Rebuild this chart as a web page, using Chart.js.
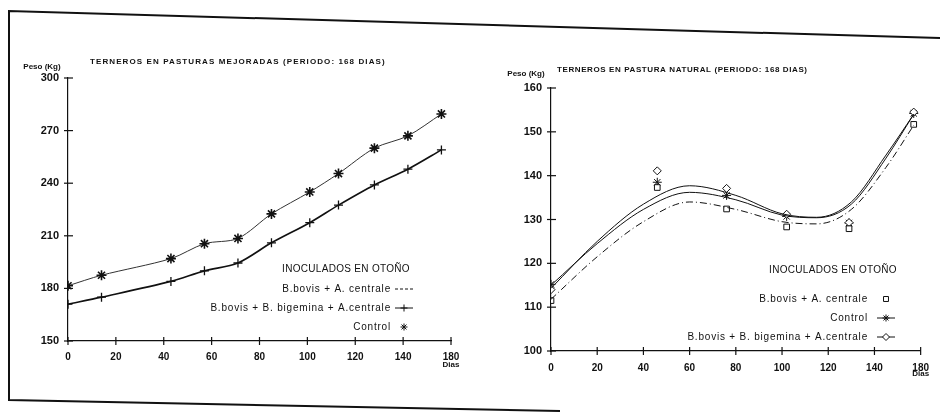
<!DOCTYPE html>
<html>
<head>
<meta charset="utf-8">
<script src="https://cdn.jsdelivr.net/npm/chart.js@4.4.1/dist/chart.umd.min.js"></script>
<style>
  body { margin: 0; background: #fff; }
  #wrap { position: relative; width: 940px; height: 417px; overflow: hidden; background: #fff; }
  #frame { position: absolute; left: 0; top: 0; }
  .pane { position: absolute; top: 0; width: 470px; height: 417px; }
</style>
</head>
<body>
<div id="wrap">
  <svg id="frame" width="940" height="417">
    <polyline points="940,38 9,11 9,400 560,411" fill="none" stroke="#111" stroke-width="2"/>
  </svg>
  <div class="pane" style="left:0"><canvas id="c1" width="470" height="417"></canvas></div>
  <div class="pane" style="left:470px"><canvas id="c2" width="470" height="417"></canvas></div>
</div>
<script>
const INK = "#111";
const FONT = '"Liberation Sans", Arial, sans-serif';

// x tick labels (the last one is printed as 180 in the original)
const xTickLabels = ["0", "20", "40", "60", "80", "100", "120", "140", "180"];

// --- Terneros en pasturas mejoradas ---
const diasMej = [0, 14, 43, 57, 71, 85, 101, 113, 128, 142, 156];
const pesoBovisBigMej = [171, 175, 184, 190, 194.5, 206, 217.5, 227.5, 239, 248, 259];
const pesoControlMej = [181.5, 187.5, 197, 205.5, 208.5, 222.5, 235, 245.5, 260, 267, 279.5];
const seriesMej = ["B.bovis + A. centrale", "B.bovis + B. bigemina + A.centrale", "Control"];

// --- Terneros en pastura natural ---
const diasNat = [0, 46, 76, 102, 129, 157];
const pesoBovisNat = [111.5, 137.3, 132.4, 128.3, 127.9, 151.7];
const pesoControlNat = [115.2, 138.5, 135.5, 130.7, 129.2, 154.2];
const pesoBovisBigNat = [114, 141.1, 137.1, 131.2, 129.3, 154.5];
// fitted curves
const diasCurva = [0, 20, 40, 60, 80, 100, 115, 130, 145, 157];
const curvaBovisBig = [114.3, 125, 133.5, 137.7, 135.5, 131.3, 130.5, 134, 144.7, 154];
const curvaControl = [115, 124.5, 132.3, 136.2, 134.5, 131, 130.4, 133.5, 144, 154];
const curvaBovis = [111.8, 121.5, 129.5, 134, 132.3, 129.5, 129, 132.3, 141.9, 151.5];
const seriesNat = ["B.bovis + A. centrale", "Control", "B.bovis + B. bigemina + A.centrale"];

const pts = (xs, ys) => xs.map((x, i) => ({ x: x, y: ys[i] }));

// crossing tick marks, titles, legend
const decor = {
  id: "decor",
  afterDraw(chart, args, o) {
    const ctx = chart.ctx;
    const xs = chart.scales.x, ys = chart.scales.y;
    ctx.save();
    ctx.strokeStyle = INK;
    ctx.fillStyle = INK;
    ctx.lineWidth = 1.2;
    ys.ticks.forEach(t => {
      const y = ys.getPixelForValue(t.value);
      ctx.beginPath(); ctx.moveTo(ys.right - 4, y); ctx.lineTo(ys.right + 5, y); ctx.stroke();
    });
    xs.ticks.forEach(t => {
      const x = xs.getPixelForValue(t.value);
      ctx.beginPath(); ctx.moveTo(x, xs.top - 4); ctx.lineTo(x, xs.top + 4); ctx.stroke();
    });

    ctx.textBaseline = "middle";
    ctx.font = "bold 8px " + FONT;
    ctx.textAlign = "left";
    ctx.letterSpacing = o.titleSpacing;
    ctx.fillText(o.title, o.titleX, o.titleY);
    ctx.letterSpacing = "0px";
    ctx.textAlign = "center";
    ctx.fillText("Peso (Kg)", o.pesoX, o.pesoY);
    ctx.fillText("Dias", xs.getPixelForValue(160), o.diasY);

    const leg = o.legend;
    ctx.font = "10px " + FONT;
    ctx.letterSpacing = "0.3px";
    ctx.fillText("INOCULADOS EN OTOÑO", leg.titleX, leg.titleY);
    ctx.letterSpacing = "0.8px";
    leg.items.forEach(it => {
      ctx.textAlign = "right";
      ctx.fillStyle = INK;
      ctx.fillText(it.label, leg.textRight, it.y);
      ctx.lineWidth = 1;
      if (it.line) {
        ctx.setLineDash(it.dash || []);
        ctx.beginPath(); ctx.moveTo(leg.symX - 9, it.y); ctx.lineTo(leg.symX + 9, it.y); ctx.stroke();
        ctx.setLineDash([]);
      }
      if (it.point) {
        ctx.fillStyle = "#fff";
        Chart.helpers.drawPoint(ctx, { pointStyle: it.point, radius: 3.5, borderWidth: 1, rotation: 0 }, leg.symX, it.y);
      }
    });
    ctx.restore();
  }
};

function axes(yMin, yMax, yStep, yWidth, xPad) {
  return {
    x: {
      type: "linear", min: 0, max: 160,
      grid: { display: false, drawTicks: false },
      border: { display: true, color: INK, width: 1.2 },
      ticks: {
        stepSize: 20, padding: xPad, color: INK,
        font: { family: FONT, size: 10, weight: "bold" },
        maxRotation: 0,
        callback: (v, i) => xTickLabels[i]
      },
      afterFit: s => { s.height = 30; }
    },
    y: {
      min: yMin, max: yMax,
      grid: { display: false, drawTicks: false },
      border: { display: true, color: INK, width: 1.2 },
      ticks: { stepSize: yStep, padding: 9, color: INK, font: { family: FONT, size: 11, weight: "bold" } },
      afterFit: s => { s.width = yWidth; }
    }
  };
}

new Chart(document.getElementById("c1"), {
  type: "line",
  data: {
    datasets: [
      { label: seriesMej[0], data: [], borderColor: INK, borderDash: [4, 3] },
      {
        label: seriesMej[1], data: pts(diasMej, pesoBovisBigMej),
        borderColor: INK, borderWidth: 1.7, tension: 0.3,
        pointStyle: "cross", pointRadius: 4.5, pointBorderWidth: 1.3, pointBorderColor: INK
      },
      {
        label: seriesMej[2], data: pts(diasMej, pesoControlMej),
        borderColor: "#333", borderWidth: 1, tension: 0.3,
        pointStyle: "star", pointRadius: 5, pointBorderWidth: 1.6, pointBorderColor: INK
      }
    ]
  },
  options: {
    responsive: false, animation: false,
    layout: { padding: { left: 0, top: 78, right: 19, bottom: 46 } },
    scales: axes(150, 300, 30, 68, 10),
    plugins: {
      legend: { display: false }, tooltip: { enabled: false },
      decor: {
        title: "TERNEROS EN PASTURAS MEJORADAS (PERIODO: 168 DIAS)", titleX: 90, titleY: 62, titleSpacing: "1.1px",
        pesoX: 42, pesoY: 67, diasY: 365,
        legend: {
          titleX: 346, titleY: 269, textRight: 391, symX: 404,
          items: [
            { label: seriesMej[0], y: 289, line: true, dash: [3, 2] },
            { label: seriesMej[1], y: 308, line: true, point: "cross" },
            { label: seriesMej[2], y: 327, point: "star" }
          ]
        }
      }
    }
  },
  plugins: [decor]
});

const marker = (label, xs, ys, style) => ({
  label: label, data: pts(xs, ys), showLine: false,
  pointStyle: style, pointRadius: style === "star" ? 4.5 : 4,
  pointBorderWidth: 1, pointBorderColor: INK, pointBackgroundColor: "#fff"
});
const curve = (label, ys, dash) => ({
  label: label, data: pts(diasCurva, ys), borderColor: INK, borderWidth: 1,
  borderDash: dash, cubicInterpolationMode: "monotone", pointRadius: 0
});

new Chart(document.getElementById("c2"), {
  type: "line",
  data: {
    datasets: [
      curve(seriesNat[2], curvaBovisBig, []),
      curve(seriesNat[1], curvaControl, []),
      curve(seriesNat[0], curvaBovis, [7, 3, 1, 3]),
      marker(seriesNat[0], diasNat, pesoBovisNat, "rect"),
      marker(seriesNat[2], diasNat, pesoBovisBigNat, "rectRot"),
      marker(seriesNat[1], diasNat, pesoControlNat, "star")
    ]
  },
  options: {
    responsive: false, animation: false,
    layout: { padding: { left: 0, top: 88, right: 10, bottom: 36 } },
    scales: axes(100, 160, 10, 81, 11),
    plugins: {
      legend: { display: false }, tooltip: { enabled: false },
      decor: {
        title: "TERNEROS EN PASTURA NATURAL (PERIODO: 168 DIAS)", titleX: 87, titleY: 70, titleSpacing: "0.6px",
        pesoX: 56, pesoY: 74, diasY: 374,
        legend: {
          titleX: 363, titleY: 270, textRight: 398, symX: 416,
          items: [
            { label: seriesNat[0], y: 299, point: "rect" },
            { label: seriesNat[1], y: 318, line: true, point: "star" },
            { label: seriesNat[2], y: 337, line: true, point: "rectRot" }
          ]
        }
      }
    }
  },
  plugins: [decor]
});
</script>
</body>
</html>
